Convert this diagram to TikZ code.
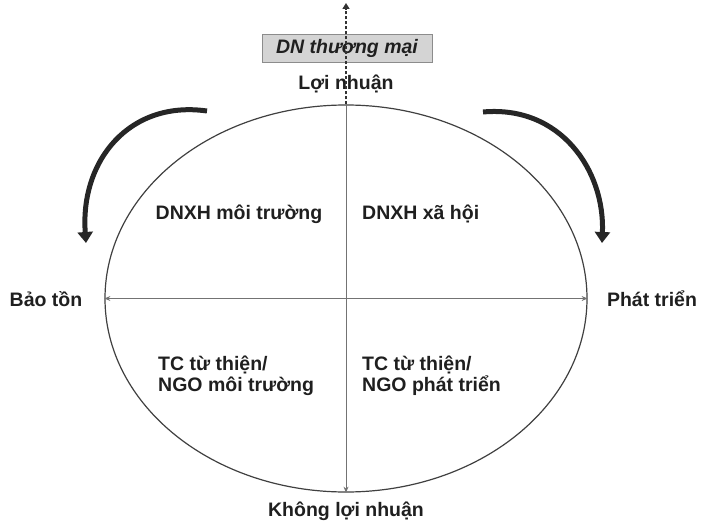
\documentclass[tikz,border=0pt]{standalone}
\usepackage{fontspec}
\setmainfont{Liberation Sans}
\usetikzlibrary{arrows.meta,shapes.geometric}
\begin{document}
\begin{tikzpicture}[x=1pt,y=-1pt,
  lbl/.style={font=\fontsize{19.5}{21}\selectfont\bfseries, text=black!88, inner sep=0pt},
  quad/.style={lbl, align=left, anchor=west},
  axis/.style={draw=black!55, line width=0.8pt},
  curvearrow/.style={draw=black!85, line width=5pt, -{Triangle[length=11pt,width=15pt]}}]
\useasboundingbox (0,0) rectangle (703,524);
\node[draw=black!75, line width=1.2pt, ellipse, minimum width=482pt, minimum height=387pt, inner sep=0pt] (ell) at (346,298.5) {};
\coordinate (topend) at (346,3);
\node[draw=black!45, fill=black!17, minimum width=170pt, minimum height=28pt, inner sep=0pt, text=black!88,
      font=\fontsize{19.5}{21}\selectfont\bfseries\itshape] (dn) at (347,48) {DN thương mại};
\node[lbl] (loi) at (346,84) {Lợi nhuận};
\node[lbl] (khong) at (346,511) {Không lợi nhuận};
\node[lbl] (bao) at (46,299) {Bảo tồn};
\node[lbl] (phat) at (652,299) {Phát triển};
\node[lbl] (q1) at (239,214) {DNXH môi trường};
\node[quad] (q2) at (362,214) {DNXH xã hội};
\node[quad] (q3) at (158,376) {TC từ thiện/\\NGO môi trường};
\node[quad] (q4) at (362,376) {TC từ thiện/\\NGO phát triển};
% axes
\draw[axis, -{Stealth[length=6pt,width=5pt]}] (ell.north) -- (ell.south);
\draw[axis, {Stealth[length=6pt,width=5pt]}-{Stealth[length=6pt,width=5pt]}] (ell.west) -- (ell.east);
\draw[draw=black!80, line width=2pt, dash pattern=on 3pt off 2pt, -{Triangle[length=6pt,width=7pt]}] (ell.north) -- (topend);
% curved arrows
\coordinate (l1) at (207,111);
\coordinate (l2) at (86,243);
\coordinate (r1) at (483,112);
\coordinate (r2) at (602,243);
\draw[curvearrow] (l1) .. controls (130,100) and (80,160) .. (l2);
\draw[curvearrow] (r1) .. controls (560,105) and (605,170) .. (r2);
\end{tikzpicture}
\end{document}
